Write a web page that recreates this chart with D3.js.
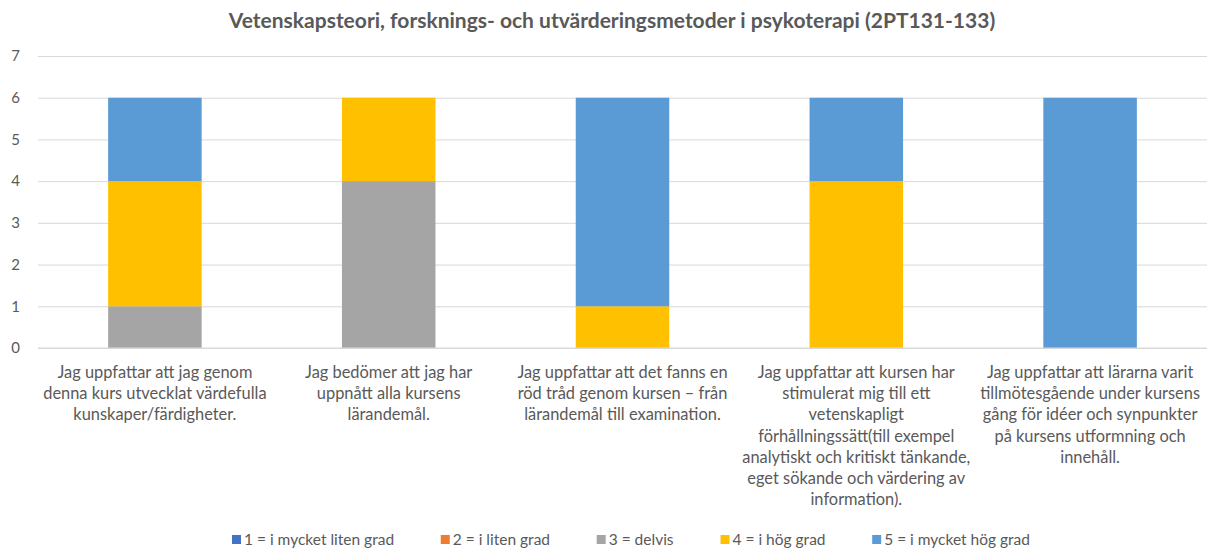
<!DOCTYPE html>
<html>
<head>
<meta charset="utf-8">
<script src="https://cdn.jsdelivr.net/npm/d3@7"></script>
<style>
  body { margin: 0; background: #fff; }
  svg { font-family: Lato, "Open Sans", sans-serif; }
</style>
</head>
<body>
<svg id="chart" width="1212" height="550"></svg>
<script>
// categories, wrapped as in the original
var categories = [
  ['Jag uppfattar att jag genom', 'denna kurs utvecklat värdefulla', 'kunskaper/färdigheter.'],
  ['Jag bedömer att jag har', 'uppnått alla kursens', 'lärandemål.'],
  ['Jag uppfattar att det fanns en', 'röd tråd genom kursen – från', 'lärandemål till examination.'],
  ['Jag uppfattar att kursen har', 'stimulerat mig till ett', 'vetenskapligt', 'förhållningssätt(till exempel', 'analytiskt och kritiskt tänkande,', 'eget sökande och värdering av', 'information).'],
  ['Jag uppfattar att lärarna varit', 'tillmötesgående under kursens', 'gång för idéer och synpunkter', 'på kursens utformning och', 'innehåll.']
];
var seriesNames = ['1 = i mycket liten grad', '2 = i liten grad', '3 = delvis', '4 = i hög grad', '5 = i mycket hög grad'];
var seriesColors = ['#4472c4', '#ed7d31', '#a5a5a5', '#ffc000', '#5b9bd5'];
var s1 = [0, 0, 0, 0, 0];
var s2 = [0, 0, 0, 0, 0];
var s3 = [1, 4, 0, 0, 0];
var s4 = [3, 2, 1, 4, 0];
var s5 = [2, 0, 5, 2, 6];
var yTicks = [0, 1, 2, 3, 4, 5, 6, 7];
var title = 'Vetenskapsteori, forsknings- och utvärderingsmetoder i psykoterapi (2PT131-133)';

var svg = d3.select('#chart');
var margin = {left: 38, right: 5, top: 56, bottom: 202};
var W = 1212, H = 550;

var rows = categories.map(function(c, i) {
  return {i: i, v: [s1[i], s2[i], s3[i], s4[i], s5[i]]};
});
var stack = d3.stack()
  .keys([0, 1, 2, 3, 4])
  .value(function(d, k) { return d.v[k]; });
var layers = stack(rows);

var x = d3.scaleBand()
  .domain(d3.range(categories.length))
  .range([margin.left, W - margin.right])
  .paddingInner(0.6)
  .paddingOuter(0.3);

var y = d3.scaleLinear().domain([0, 7]).range([H - margin.bottom, margin.top]);

// title
svg.append('text')
  .attr('x', 612).attr('y', 28)
  .attr('text-anchor', 'middle')
  .style('font-size', '21px').style('font-weight', 'bold')
  .style('fill', '#595959')
  .text(title);

// grid
var yAxis = d3.axisLeft(y).tickValues(yTicks).tickFormat(d3.format('d'))
  .tickSize(-(W - margin.right - margin.left)).tickPadding(18);
var ga = svg.append('g').attr('transform', 'translate(' + margin.left + ',0)').call(yAxis);
ga.select('.domain').remove();
ga.selectAll('.tick line').attr('stroke', '#d9d9d9').attr('stroke-width', 1);
ga.selectAll('.tick text').style('font-size', '15px').style('fill', '#595959').style('font-family', 'Lato, sans-serif');

// bars
svg.append('g').selectAll('g')
  .data(layers)
  .enter().append('g')
  .attr('fill', function(d) { return seriesColors[d.key]; })
  .selectAll('rect')
  .data(function(d) { return d; })
  .enter().append('rect')
  .attr('x', function(d) { return x(d.data.i); })
  .attr('width', x.bandwidth())
  .attr('y', function(d) { return y(d[1]); })
  .attr('height', function(d) { return y(d[0]) - y(d[1]); });

// baseline
svg.append('line')
  .attr('x1', margin.left).attr('x2', W - margin.right)
  .attr('y1', y(0)).attr('y2', y(0))
  .attr('stroke', '#d9d9d9');

// category labels
var lab = svg.append('g').selectAll('text')
  .data(categories)
  .enter().append('text')
  .attr('text-anchor', 'middle')
  .attr('x', function(d, i) { return x(i) + x.bandwidth() / 2; })
  .attr('y', y(0) + 30)
  .style('font-size', '16.4px')
  .style('fill', '#595959');
lab.selectAll('tspan')
  .data(function(d) { return d; })
  .enter().append('tspan')
  .attr('x', function() { return d3.select(this.parentNode).attr('x'); })
  .attr('dy', function(d, i) { return i === 0 ? 0 : 21.2; })
  .text(function(d) { return d; });

// legend: lay out items by measured width, spread across 232..1030
var lg = svg.append('g').selectAll('g')
  .data(seriesNames)
  .enter().append('g');
lg.append('rect')
  .attr('x', 0).attr('y', -10).attr('width', 9).attr('height', 9)
  .attr('fill', function(d, i) { return seriesColors[i]; });
lg.append('text')
  .attr('x', 12).attr('y', 0)
  .style('font-size', '15.5px').style('fill', '#595959')
  .text(function(d) { return d; });
var widths = [];
lg.each(function() { widths.push(this.getBBox().width); });
var legendL = 232, legendR = 1030;
var gap = (legendR - legendL - d3.sum(widths)) / (widths.length - 1);
var cx = legendL;
lg.attr('transform', function(d, i) {
  var t = 'translate(' + cx + ',545)';
  cx += widths[i] + gap;
  return t;
});
</script>
</body>
</html>
